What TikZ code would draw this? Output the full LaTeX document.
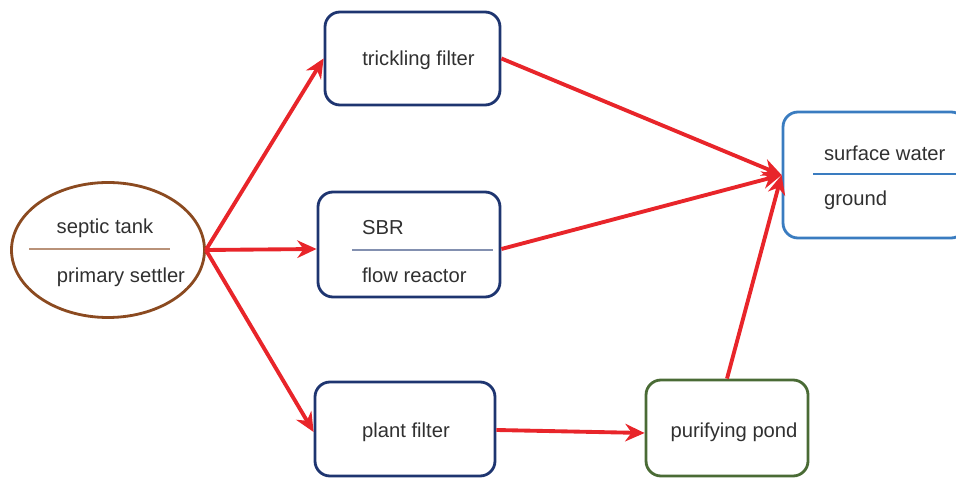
\documentclass[tikz,border=0pt]{standalone}
\usepackage{fontspec}
\setmainfont{Liberation Sans}
\usepackage{xcolor}
\usepackage{tikz}
\usetikzlibrary{arrows.meta,shapes.geometric,positioning}

\definecolor{navy}{HTML}{1E3570}
\definecolor{tankbrown}{HTML}{8B4A20}
\definecolor{waterblue}{HTML}{3A7CC0}
\definecolor{pondgreen}{HTML}{4A6B35}
\definecolor{flowred}{HTML}{E8252A}
\definecolor{txtgray}{HTML}{303030}

\tikzset{
	every node/.append style={text=txtgray, font=\fontsize{11.5}{13}\selectfont},
	unit/.style = {
			draw            = navy,
			line width      = 1.6pt,
			rounded corners = 0.3cm,
			inner sep       = 0pt,
		},
	flow/.style = {
			draw       = flowred,
			line width = 2.2pt,
			-{Stealth[length=11pt,width=10pt]},
		},
	label/.style = {inner sep=1pt},
}

\begin{document}
\begin{tikzpicture}[x=1cm,y=1cm]
	\useasboundingbox (0,0) rectangle (19.12,9.56);
	\clip (0,0) rectangle (19.12,9.56);

	% Source: septic tank / primary settler
	\node[ellipse, draw=tankbrown, line width=1.6pt, minimum width=3.86cm, minimum height=2.7cm] (tank) at (2.16,4.56) {};
	\draw[tankbrown!60, line width=0.9pt] (0.58,4.58) -- (3.4,4.58);
	\node[label] (tanktop) at (2.1,5.0) {septic tank};
	\node[label] (tankbot) at (2.42,4.02) {primary settler};

	% Treatment units
	\node[unit, minimum width=3.5cm, minimum height=1.86cm] (trickle) at (8.25,8.39) {};
	\node[label] (trickletxt) at (8.37,8.36) {trickling filter};

	\node[unit, minimum width=3.64cm, minimum height=2.1cm] (sbr) at (8.18,4.67) {};
	\draw[navy!55, line width=1pt] (7.04,4.56) -- (9.86,4.56);
	\node[label, anchor=west] (sbrtop) at (7.2,5.0) {SBR};
	\node[label, anchor=west] (sbrbot) at (7.2,4.06) {flow reactor};

	\node[unit, minimum width=3.6cm, minimum height=1.88cm] (plant) at (8.1,0.98) {};
	\node[label] (planttxt) at (8.12,0.92) {plant filter};

	% Polishing pond
	\node[unit, draw=pondgreen, minimum width=3.24cm, minimum height=1.92cm] (pond) at (14.54,1.0) {};
	\node[label] (pondtxt) at (14.68,0.92) {purifying pond};

	% Receiving water
	\node[unit, draw=waterblue, minimum width=3.66cm, minimum height=2.52cm] (water) at (17.49,6.06) {};
	\draw[waterblue, line width=0.8pt] (16.26,6.08) -- (19.12,6.08);
	\node[label, anchor=west] (watertop) at (16.44,6.5) {surface water};
	\node[label, anchor=west] (waterbot) at (16.44,5.56) {ground};

	% Flows
	\draw[flow] (tank.east) -- (trickle.west);
	\draw[flow] (tank.east) -- ([yshift=-0.09cm]sbr.west);
	\draw[flow] (tank.east) -- ([yshift=-0.06cm]plant.west);
	\draw[flow] (trickle.east) -- (water.west);
	\draw[flow] ([yshift=-0.09cm]sbr.east) -- (water.west);
	\draw[flow] ([yshift=-0.02cm]plant.east) -- ([yshift=-0.1cm]pond.west);
	\draw[flow] (pond.north) -- (water.west);
\end{tikzpicture}
\end{document}
